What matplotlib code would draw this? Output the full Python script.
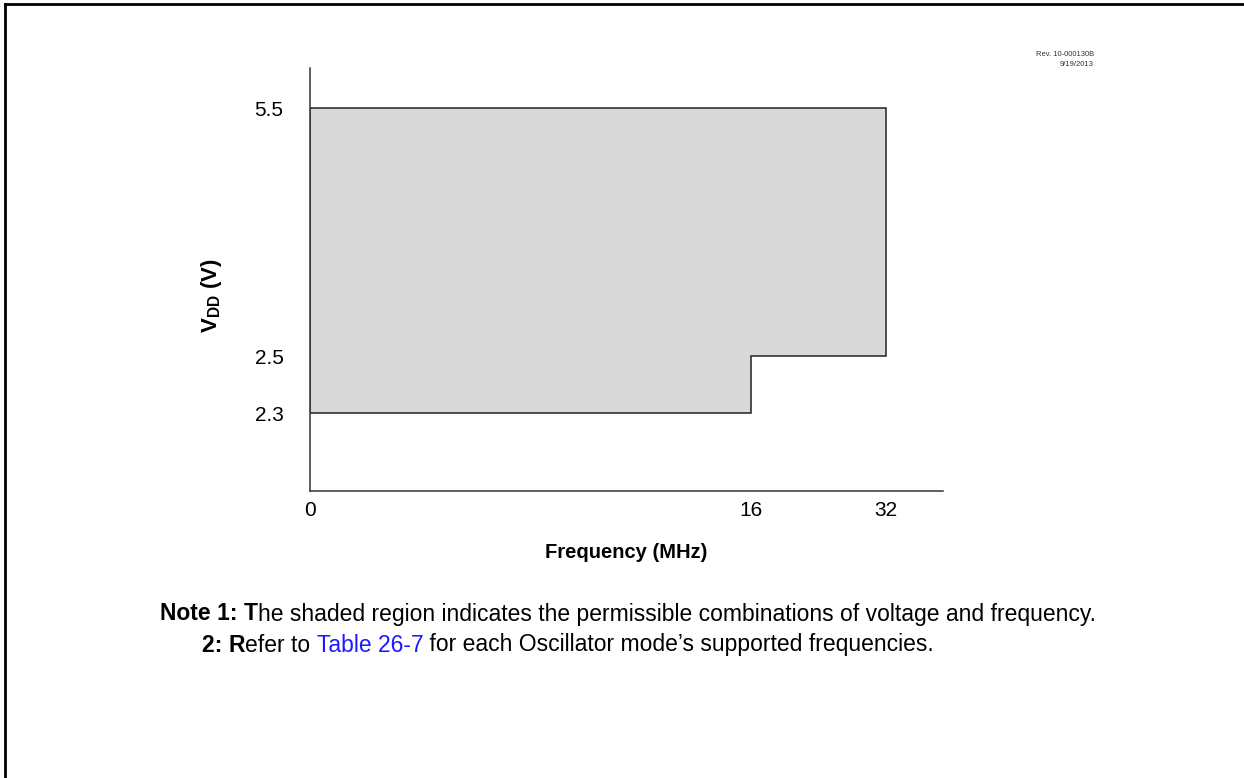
import numpy as np
import matplotlib
matplotlib.use("Agg")
import matplotlib.pyplot as plt
from matplotlib.patches import Polygon

plt.rcParams['font.family'] = ['Liberation Sans', 'DejaVu Sans']
plt.rcParams['mathtext.fontset'] = 'custom'
plt.rcParams['mathtext.rm'] = 'Liberation Sans'
plt.rcParams['mathtext.bf'] = 'Liberation Sans:bold'

# operating region outline (frequency in MHz, voltage in V)
freq_pts = [0, 16, 16, 32, 32, 0]
vdd_pts = [2.3, 2.3, 2.5, 2.5, 5.5, 5.5]

freq_ticks = [0, 16, 32]
vdd_ticks = [2.3, 2.5, 5.5]
freq_labels = ["0", "16", "32"]
vdd_labels = ["2.3", "2.5", "5.5"]

# schematic (non-linear) axis spacing, in relative screen units
freq_screen = [0, 441, 576]
vdd_screen = [0, 57, 305]


def piecewise(xp, fp):
    xp = np.asarray(xp, float)
    fp = np.asarray(fp, float)
    s0 = (fp[1] - fp[0]) / (xp[1] - xp[0])
    s1 = (fp[-1] - fp[-2]) / (xp[-1] - xp[-2])

    def f(x):
        x = np.asarray(x, float)
        y = np.interp(x, xp, fp)
        y = np.where(x < xp[0], fp[0] + (x - xp[0]) * s0, y)
        y = np.where(x > xp[-1], fp[-1] + (x - xp[-1]) * s1, y)
        return y
    return f


fig = plt.figure(figsize=(12.44, 7.78), dpi=100)
ax = fig.add_axes([310 / 1244, 287 / 778, 633 / 1244, 423 / 778])

ax.set_xscale('function', functions=(piecewise(freq_ticks, freq_screen),
                                     piecewise(freq_screen, freq_ticks)))
ax.set_yscale('function', functions=(piecewise(vdd_ticks, vdd_screen),
                                     piecewise(vdd_screen, vdd_ticks)))

poly = Polygon(np.column_stack([freq_pts, vdd_pts]), closed=True,
               facecolor='#d9d9d9', edgecolor='#222222', linewidth=1.1)
ax.add_patch(poly)

ax.set_xlim(0, 32 + 57 * 16 / 135)
ax.set_ylim(2.3 - 78 * 0.2 / 57, 5.5 + 40 * 3 / 248)

ax.set_xticks(freq_ticks)
ax.set_xticklabels(freq_labels)
ax.set_yticks(vdd_ticks)
ax.set_yticklabels(vdd_labels)
ax.tick_params(length=0, labelsize=15)
ax.tick_params(axis='x', pad=7)
ax.tick_params(axis='y', pad=19)
ax.xaxis.set_minor_locator(matplotlib.ticker.NullLocator())
ax.yaxis.set_minor_locator(matplotlib.ticker.NullLocator())

for side in ['top', 'right']:
    ax.spines[side].set_visible(False)
for side in ['left', 'bottom']:
    ax.spines[side].set_color('#333333')
    ax.spines[side].set_linewidth(1.1)

ax.set_xlabel("Frequency (MHz)", fontsize=14.5, fontweight='bold')
ax.xaxis.set_label_coords(0.499, -52 / 423)
ax.set_ylabel(r"V$_{\mathbf{DD}}$ (V)", fontsize=16, fontweight='bold')
ax.yaxis.set_label_coords(-86 / 633, 0.463)

fig.text(1094 / 1244, 1 - 55 / 778, "Rev. 10-000130B", fontsize=5.5,
         ha='right', va='center', color='#333333')
fig.text(1094 / 1244, 1 - 64 / 778, "9/19/2013", fontsize=5.5,
         ha='right', va='center', color='#333333')

# notes under the chart
fs = 16.5
r = fig.canvas.get_renderer()


def run(parts, x, y):
    for txt, weight, col in parts:
        t = fig.text(x, y, txt, fontsize=fs, fontweight=weight, color=col,
                     ha='left', va='center')
        bb = t.get_window_extent(renderer=r)
        x += bb.width / fig.bbox.width


run([("Note 1: ", 'bold', 'black'), ("T", 'bold', 'black'),
     ("he shaded region indicates the permissible combinations of voltage and frequency.", 'normal', 'black')],
    160 / 1244, 1 - 614 / 778)
run([("2: ", 'bold', 'black'), ("R", 'bold', 'black'), ("efer to ", 'normal', 'black'),
     ("Table 26-7", 'normal', '#1a1aff'),
     (" for each Oscillator mode\u2019s supported frequencies.", 'normal', 'black')],
    202 / 1244, 1 - 645 / 778)

# page frame (left and top edges visible)
fig.add_artist(plt.Line2D([5 / 1244, 5 / 1244], [0, 1 - 4 / 778],
                          transform=fig.transFigure, color='black', linewidth=2))
fig.add_artist(plt.Line2D([5 / 1244, 1], [1 - 4 / 778, 1 - 4 / 778],
                          transform=fig.transFigure, color='black', linewidth=2))

fig.savefig("out.png", dpi=100)
